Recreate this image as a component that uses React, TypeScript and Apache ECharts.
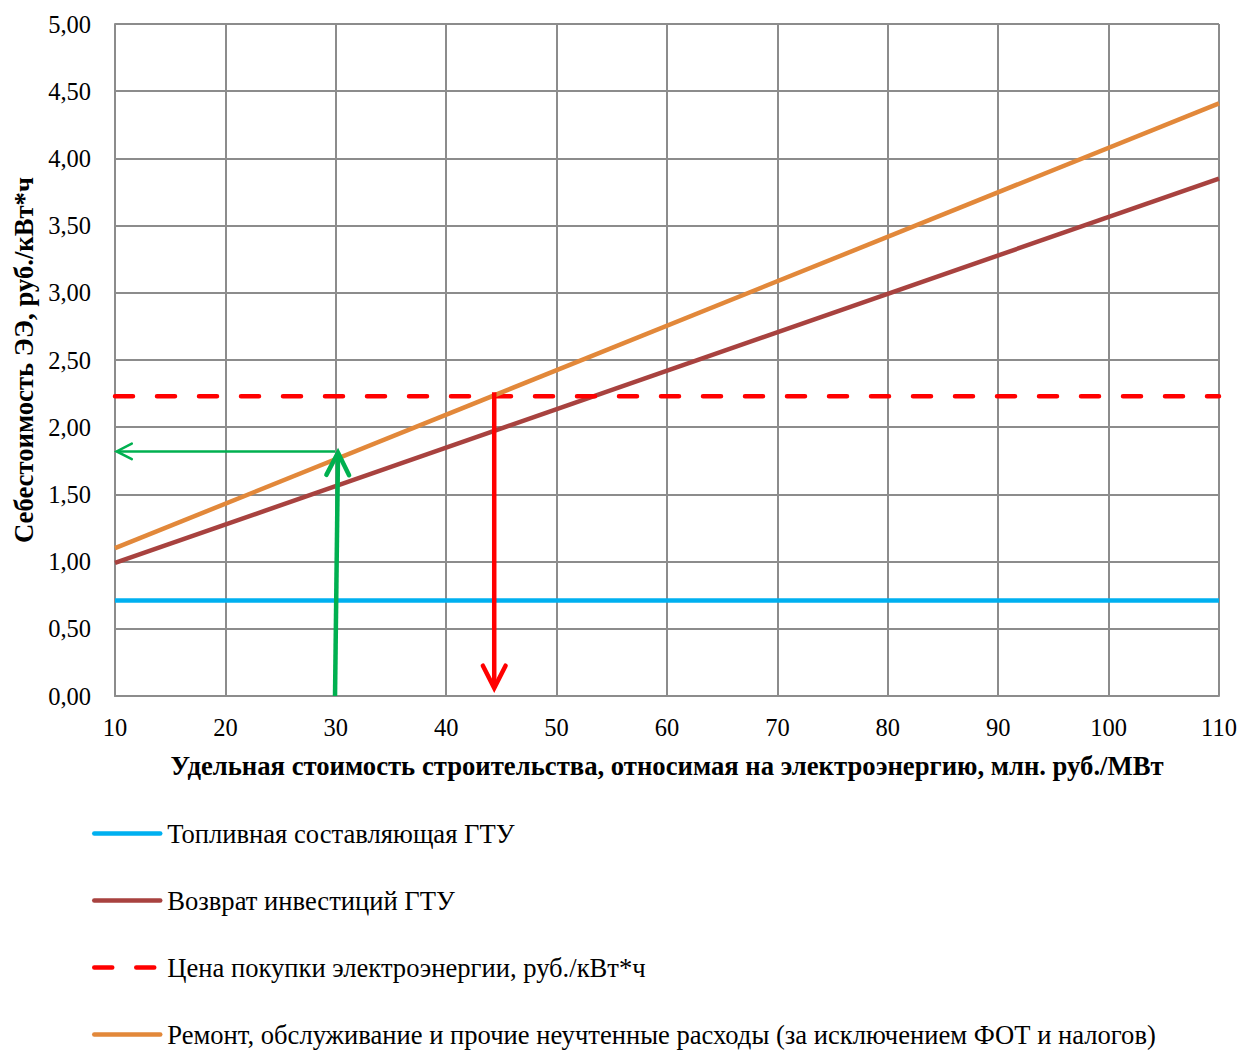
import React, { useEffect, useRef } from "react";
import * as echarts from "echarts";

const xEnds = [10, 110];
const fuelCost = [0.71, 0.71];
const investReturn = [0.99, 3.85];
const purchasePrice = [2.23, 2.23];
const repairCost = [1.1, 4.41];

const seriesNames = [
  "Топливная составляющая ГТУ",
  "Возврат инвестиций ГТУ",
  "Цена покупки электроэнергии, руб./кВт*ч",
  "Ремонт, обслуживание и прочие неучтенные расходы (за исключением ФОТ и налогов)",
];

// arrows: [xStart, yStart, xEnd, yEnd]
const greenUpArrow = [29.93, 0, 30.2, 1.81];
const greenLeftArrow = [29.93, 1.82, 10.15, 1.82];
const redDownArrow = [44.35, 2.26, 44.35, 0.06];

const xAxisTitle = "Удельная стоимость строительства, относимая на электроэнергию, млн. руб./МВт";
const yAxisTitle = "Себестоимость ЭЭ, руб./кВт*ч";

const FONT = "'Liberation Serif', 'Times New Roman', serif";
const GRID_COLOR = "#8c8c8c";

function pairs(xs: number[], ys: number[]) {
  return xs.map((x, i) => [x, ys[i]]);
}

function arrowSeries(id: string, arrow: number[], color: string, width: number, headLen: number) {
  return {
    type: "custom",
    id,
    silent: true,
    z: 5,
    encode: { x: [0, 2], y: [1, 3] },
    data: [arrow],
    renderItem: (params: any, api: any) => {
      const p1 = api.coord([api.value(0), api.value(1)]);
      const p2 = api.coord([api.value(2), api.value(3)]);
      const dx = p2[0] - p1[0];
      const dy = p2[1] - p1[1];
      const len = Math.sqrt(dx * dx + dy * dy) || 1;
      const ux = dx / len;
      const uy = dy / len;
      const ang = (27 * Math.PI) / 180;
      const rot = (a: number) => [
        -(ux * Math.cos(a) - uy * Math.sin(a)),
        -(ux * Math.sin(a) + uy * Math.cos(a)),
      ];
      const r1 = rot(ang);
      const r2 = rot(-ang);
      return {
        type: "group",
        children: [
          {
            type: "line",
            shape: { x1: p1[0], y1: p1[1], x2: p2[0], y2: p2[1] },
            style: { stroke: color, lineWidth: width, lineCap: "butt" },
          },
          {
            type: "polyline",
            shape: {
              points: [
                [p2[0] + r1[0] * headLen, p2[1] + r1[1] * headLen],
                [p2[0], p2[1]],
                [p2[0] + r2[0] * headLen, p2[1] + r2[1] * headLen],
              ],
            },
            style: { stroke: color, fill: null, lineWidth: width, lineCap: "round", lineJoin: "miter" },
          },
        ],
      };
    },
  };
}

export default function App() {
  const ref = useRef<HTMLDivElement>(null);

  useEffect(() => {
    document.body.style.margin = "0";
    if (!ref.current) return;
    const chart = echarts.init(ref.current, null, { renderer: "svg" });
    const lineW = 4.5;
    const fmt = (v: number) => v.toFixed(2).replace(".", ",");
    chart.setOption({
      animation: false,
      backgroundColor: "#ffffff",
      textStyle: { fontFamily: FONT },
      grid: { left: 115, right: 24, top: 24, bottom: 354, containLabel: false },
      xAxis: {
        type: "value",
        min: 10,
        max: 110,
        interval: 10,
        name: xAxisTitle,
        nameLocation: "middle",
        nameGap: 56,
        nameTextStyle: { fontFamily: FONT, fontSize: 26.7, fontWeight: "bold", color: "#000" },
        axisLine: { show: true, lineStyle: { color: GRID_COLOR, width: 2 } },
        axisTick: { show: false },
        axisLabel: { fontFamily: FONT, fontSize: 24.5, color: "#000", margin: 19 },
        splitLine: { show: true, lineStyle: { color: GRID_COLOR, width: 2 } },
      },
      yAxis: {
        type: "value",
        min: 0,
        max: 5,
        interval: 0.5,
        name: yAxisTitle,
        nameLocation: "middle",
        nameGap: 74,
        nameRotate: 90,
        nameTextStyle: { fontFamily: FONT, fontSize: 26.7, fontWeight: "bold", color: "#000" },
        axisLine: { show: true, lineStyle: { color: GRID_COLOR, width: 2 } },
        axisTick: { show: false },
        axisLabel: { fontFamily: FONT, fontSize: 24.5, color: "#000", margin: 24, formatter: fmt },
        splitLine: { show: true, lineStyle: { color: GRID_COLOR, width: 2 } },
      },
      legend: {
        orient: "vertical",
        left: 92,
        top: 820,
        height: 260,
        padding: 0,
        itemWidth: 66,
        itemHeight: 14,
        itemGap: 40,
        data: seriesNames,
        itemStyle: { opacity: 0 },
        lineStyle: { width: 4.5, cap: "round" },
        textStyle: { fontFamily: FONT, fontSize: 26.6, color: "#000", lineHeight: 26, padding: [0, 0, 0, 2] },
      },
      series: [
        {
          name: seriesNames[0],
          type: "line",
          symbol: "none",
          data: pairs(xEnds, fuelCost),
          lineStyle: { color: "#00B0F0", width: lineW },
          itemStyle: { color: "#00B0F0" },
          z: 3,
        },
        {
          name: seriesNames[1],
          type: "line",
          symbol: "none",
          data: pairs(xEnds, investReturn),
          lineStyle: { color: "#A8423F", width: lineW },
          itemStyle: { color: "#A8423F" },
          z: 3,
        },
        {
          name: seriesNames[2],
          type: "line",
          symbol: "none",
          data: pairs(xEnds, purchasePrice),
          lineStyle: { color: "#FF0000", width: lineW, type: [18, 24], cap: "round" },
          itemStyle: { color: "#FF0000" },
          z: 3,
        },
        {
          name: seriesNames[3],
          type: "line",
          symbol: "none",
          data: pairs(xEnds, repairCost),
          lineStyle: { color: "#E2883A", width: lineW },
          itemStyle: { color: "#E2883A" },
          z: 3,
        },
        arrowSeries("greenUp", greenUpArrow, "#00B050", 4.5, 25),
        arrowSeries("greenLeft", greenLeftArrow, "#00B050", 2.5, 17),
        arrowSeries("redDown", redDownArrow, "#FF0000", 4.5, 25),
      ],
    });
    return () => chart.dispose();
  }, []);

  return <div ref={ref} style={{ width: 1243, height: 1050 }} />;
}
